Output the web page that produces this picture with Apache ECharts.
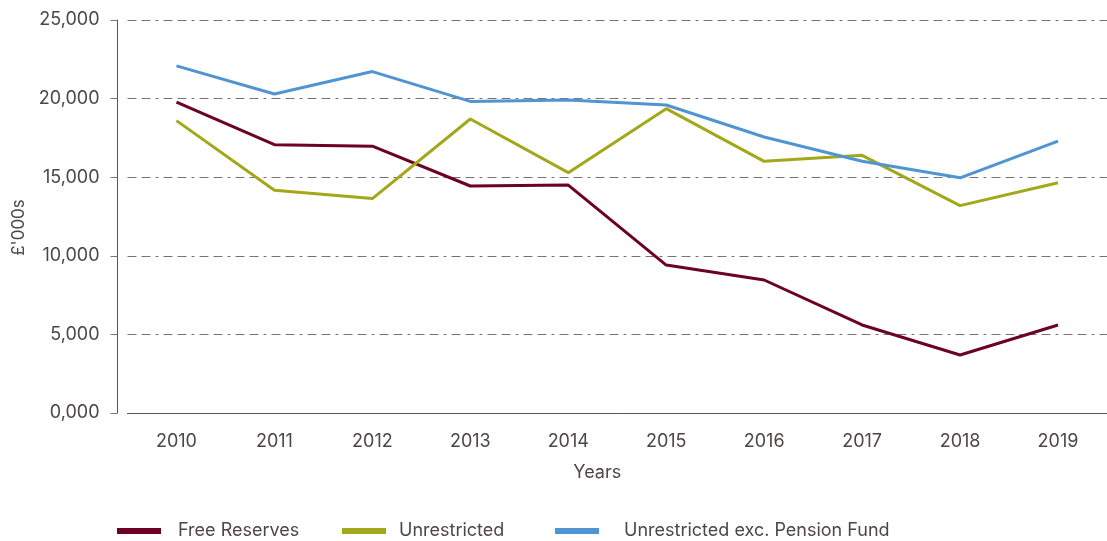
<!DOCTYPE html>
<html>
<head>
<meta charset="utf-8">
<script src="https://cdn.jsdelivr.net/npm/echarts@6/dist/echarts.min.js"></script>
<style>
	html, body { margin: 0; padding: 0; background: #fff; }
	#chartLine { width: 1107px; height: 541px; }
</style>
</head>
<body>
<div id="chartLine"></div>
<script>
	var years = ['2010', '2011', '2012', '2013', '2014', '2015', '2016', '2017', '2018', '2019'];
	var freeReserves = [19770, 17070, 16970, 14440, 14500, 9410, 8460, 5600, 3690, 5600];
	var unrestricted = [18600, 14170, 13640, 18700, 15290, 19360, 16010, 16390, 13190, 14650];
	var unrestrictedExPension = [22080, 20290, 21720, 19820, 19910, 19590, 17560, 16010, 14960, 17300];
	var yTickLabels = ['0,000', '5,000', '10,000', '15,000', '20,000', '25,000'];

	var textColor = '#4e4646';
	var axisColor = '#5c5454';
	var colors = ['#6c0026', '#a3a71a', '#5094d2'];
	var names = ['Free Reserves', 'Unrestricted', 'Unrestricted exc. Pension Fund'];

	function legendItem(name, left, gap) {
		return {
			data: [name],
			left: left,
			top: 522,
			padding: 0,
			icon: 'rect',
			itemWidth: 44,
			itemHeight: 6,
			textStyle: {
				color: textColor,
				fontFamily: 'Inter',
				fontSize: 18,
				padding: [0, 0, 0, gap]
			}
		};
	}

	var chartLine = echarts.init(document.getElementById('chartLine'));
	chartLine.setOption({
		animation: false,
		color: colors,
		grid: {
			left: 127.5,
			right: -10,
			top: 20,
			bottom: 128,
			containLabel: false
		},
		legend: [
			legendItem(names[0], 117, 12),
			legendItem(names[1], 342, 8),
			legendItem(names[2], 555, 20)
		],
		xAxis: {
			type: 'category',
			data: years,
			boundaryGap: true,
			name: 'Years',
			nameLocation: 'middle',
			nameGap: 51,
			nameTextStyle: { color: textColor, fontFamily: 'Inter', fontSize: 18, padding: [0, 40, 0, 0] },
			axisLine: { lineStyle: { color: axisColor, width: 1 } },
			axisTick: { show: false },
			axisLabel: { color: textColor, fontFamily: 'Inter', fontSize: 18, margin: 20 }
		},
		yAxis: {
			type: 'value',
			min: 0,
			max: 25000,
			interval: 5000,
			offset: 10,
			name: "£'000s",
			nameLocation: 'middle',
			nameRotate: 90,
			nameGap: 90,
			nameTextStyle: { color: textColor, fontFamily: 'Inter', fontSize: 17, padding: [0, 22, 0, 0] },
			axisLine: { show: true, lineStyle: { color: axisColor, width: 1 } },
			axisTick: { show: true, length: 12, lineStyle: { color: '#7d7373', type: [7, 5] } },
			axisLabel: {
				color: textColor,
				fontFamily: 'Inter',
				fontSize: 18,
				margin: 18,
				formatter: function (value) {
					return yTickLabels[Math.round(value / 5000)];
				}
			},
			splitLine: {
				show: true,
				lineStyle: { color: '#7d7373', width: 1, type: [9, 5, 9, 5, 3, 5] }
			}
		},
		series: [
			{ name: names[0], type: 'line', data: freeReserves, showSymbol: false, lineStyle: { width: 3 } },
			{ name: names[1], type: 'line', data: unrestricted, showSymbol: false, lineStyle: { width: 3 } },
			{ name: names[2], type: 'line', data: unrestrictedExPension, showSymbol: false, lineStyle: { width: 3 } }
		]
	});
</script>
</body>
</html>
